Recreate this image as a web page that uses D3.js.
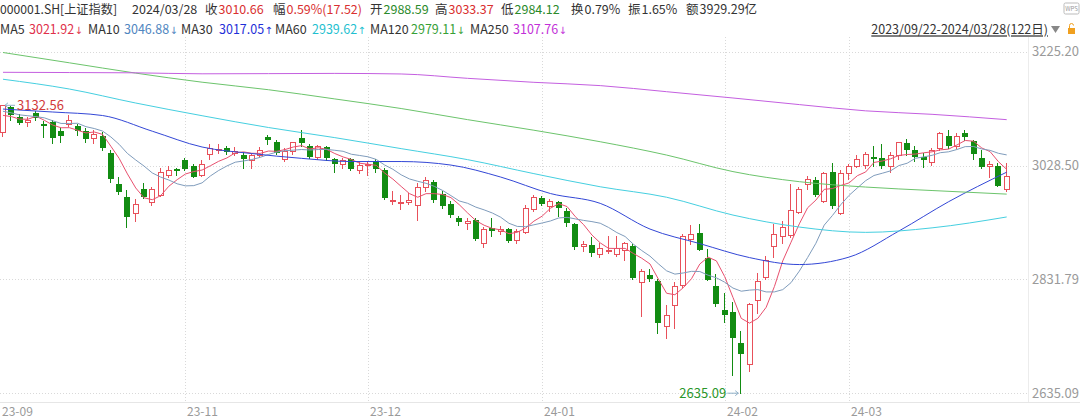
<!DOCTYPE html>
<html><head><meta charset="utf-8">
<script src="https://cdn.jsdelivr.net/npm/d3@7"></script>
<style>
html,body{margin:0;padding:0;background:#fff;}
svg{display:block;font-family:"Noto Sans CJK SC","Noto Sans",sans-serif;}
</style></head><body>
<svg id="chart" width="1080" height="420"></svg>
<script>
// ---------- DATA ----------
const dates = [
"2023-09-22","2023-09-25","2023-09-26","2023-09-27","2023-09-28",
"2023-10-09","2023-10-10","2023-10-11","2023-10-12","2023-10-13","2023-10-16","2023-10-17","2023-10-18","2023-10-19","2023-10-20",
"2023-10-23","2023-10-24","2023-10-25","2023-10-26","2023-10-27","2023-10-30","2023-10-31",
"2023-11-01","2023-11-02","2023-11-03","2023-11-06","2023-11-07","2023-11-08","2023-11-09","2023-11-10","2023-11-13","2023-11-14",
"2023-11-15","2023-11-16","2023-11-17","2023-11-20","2023-11-21","2023-11-22","2023-11-23","2023-11-24","2023-11-27","2023-11-28",
"2023-11-29","2023-11-30",
"2023-12-01","2023-12-04","2023-12-05","2023-12-06","2023-12-07","2023-12-08","2023-12-11","2023-12-12","2023-12-13","2023-12-14",
"2023-12-15","2023-12-18","2023-12-19","2023-12-20","2023-12-21","2023-12-22","2023-12-25","2023-12-26","2023-12-27","2023-12-28","2023-12-29",
"2024-01-02","2024-01-03","2024-01-04","2024-01-05","2024-01-08","2024-01-09","2024-01-10","2024-01-11","2024-01-12","2024-01-15",
"2024-01-16","2024-01-17","2024-01-18","2024-01-19","2024-01-22","2024-01-23","2024-01-24","2024-01-25","2024-01-26","2024-01-29",
"2024-01-30","2024-01-31",
"2024-02-01","2024-02-02","2024-02-05","2024-02-06","2024-02-07","2024-02-08","2024-02-19","2024-02-20","2024-02-21","2024-02-22",
"2024-02-23","2024-02-26","2024-02-27","2024-02-28","2024-02-29",
"2024-03-01","2024-03-04","2024-03-05","2024-03-06","2024-03-07","2024-03-08","2024-03-11","2024-03-12","2024-03-13","2024-03-14",
"2024-03-15","2024-03-18","2024-03-19","2024-03-20","2024-03-21","2024-03-22","2024-03-25","2024-03-26","2024-03-27","2024-03-28"];

const open = [3087,3130,3113,3104,3119,3101,3104,3088,3100,3096,
3089,3076,3080,3050,2997,2974,2947,2988,2965,2978,
3012,3022,3038,3028,3012,3048,3055,3058,3050,3046,
3038,3047,3077,3070,3040,3054,3076,3062,3044,3060,
3039,3032,3040,3020,3030,3036,3020,2967,2963,2966,
2960,2991,3000,2980,2962,2938,2929,2934,2895,2920,
2915,2919,2899,2913,2953,2972,2958,2966,2950,2927,
2889,2892,2876,2880,2875,2882,2890,2828,2840,2829,
2752,2787,2822,2901,2912,2868,2820,2778,2776,2721,
2686,2796,2836,2890,2907,2909,2948,2997,3004,2968,
3018,2947,3015,3028,3029,3043,3041,3028,3046,3068,
3055,3044,3034,3058,3080,3062,3084,3071,3042,3028,
3027,2988.59];

const high = [3132.56,3131.5,3118,3112,3123,3106,3107,3094,3115,3100,
3093,3090,3086,3056,3008,2986,2970,2998,2992,3025,
3028,3025,3042,3032,3038,3065,3065,3062,3060,3052,
3050,3060,3082,3072,3058,3070,3090,3066,3064,3062,
3042,3042,3042,3034,3037,3040,3024,2985,2978,2981,
2998,3008,3004,2985,2968,2942,2938,2938,2922,2938,
2924,2921,2919,2960,2978,2976,2970,2968,2955,2930,
2898,2905,2894,2906,2906,2897,2893,2850,2850,2833,
2787,2828,2910,2925,2927,2885,2841,2809,2793,2743,
2791,2842,2872,2928,2932,2996,2992,3011,3009,3018,
3033,3020,3032,3046,3052,3062,3065,3052,3070,3074,
3062,3050,3058,3086,3090,3084,3090,3073,3056,3036,
3033,3033.37];

const low = [3080,3108,3100,3096,3107,3078,3068,3070,3096,3082,
3070,3068,3056,3000,2980,2923,2932,2972,2960,2975,
3008,3012,3020,3008,3010,3040,3050,3048,3046,3025,
3025,3045,3065,3048,3036,3048,3062,3042,3040,3038,
3018,3025,3020,3015,3012,3018,2970,2962,2953,2962,
2934,2985,2965,2955,2940,2925,2919,2900,2887,2907,
2910,2896,2895,2912,2950,2960,2950,2941,2924,2885,
2880,2872,2870,2877,2872,2865,2832,2768,2829,2739,
2730,2748,2818,2893,2882,2830,2785,2758,2666,2635.09,
2674,2773,2832,2870,2894,2905,2946,2988,2975,2965,
2955,2945,3005,3026,3025,3027,3025,3018,3040,3046,
3037,3026,3030,3056,3058,3058,3073,3040,3025,3009,
2993,2984.12];

const close = [3132.43,3115.61,3102.27,3107.32,3110.48,3096.92,3075.24,3078.96,3107.90,3088.10,
3073.81,3083.50,3058.71,3005.39,2983.06,2939.29,2962.24,2974.11,2988.30,3017.78,
3021.55,3018.77,3023.08,3009.41,3030.80,3058.41,3057.27,3052.37,3053.28,3038.97,
3046.53,3056.07,3072.83,3050.93,3054.37,3068.32,3067.93,3043.61,3061.86,3040.97,
3031.70,3038.55,3021.69,3029.67,3031.64,3022.91,2972.30,2968.93,2966.21,2969.56,
2991.44,3003.46,2968.76,2958.99,2942.56,2930.80,2932.39,2902.11,2918.72,2914.78,
2918.81,2898.87,2914.61,2954.70,2974.93,2962.28,2967.25,2954.35,2929.18,2887.54,
2893.25,2877.70,2886.65,2881.98,2886.29,2893.99,2833.62,2845.78,2832.28,2756.34,
2770.98,2820.77,2906.11,2910.22,2883.36,2830.53,2788.55,2770.74,2730.15,2702.19,
2789.49,2829.70,2865.90,2910.54,2922.73,2950.96,2988.36,3004.88,2977.02,3015.48,
2957.85,3015.17,3027.02,3039.31,3047.79,3039.93,3027.40,3046.02,3068.46,3055.94,
3043.83,3038.23,3054.64,3084.93,3062.76,3079.69,3077.11,3048.03,3026.31,3031.48,
2993.14,3010.66];

// closes of the 9 sessions before the window (for MA5 / MA10)
const priorCloses = [3142.78,3137.06,3122.35,3126.55,3117.74,3125.93,3124.25,3108.57,3084.70];

// longer moving averages at sample sessions
const ma30Idx = [0,6,12,18,24,30,36,42,48,54,60,66,72,78,84,90,96,102,108,114,121];
const ma30Val = [3126.1,3121.0,3114.9,3087.8,3060.5,3049.2,3040.9,3035.4,3035.4,3029.3,3008.6,2980.1,2963.1,2918.7,2893.6,2869.4,2857.4,2870.3,2915.3,2966.0,3017.05];
const longIdx = [0,8,16,24,32,40,48,56,64,72,80,88,96,104,112,121];
const ma60Val  = [3177.6,3160.7,3136.5,3114.6,3094.2,3076.7,3057.7,3038.7,3014.5,2991.8,2973.7,2942.9,2922.2,2913.0,2920.8,2939.62];
const ma120Val = [3223.8,3206.0,3188.2,3172.5,3159.5,3143.6,3127.0,3107.8,3089.5,3069.6,3046.6,3018.0,3000.6,2991.3,2985.3,2979.11];
const ma250Val = [3189.6,3189.2,3188.7,3187.0,3187.3,3187.7,3186.7,3179.2,3172.3,3166.6,3156.1,3145.2,3133.8,3123.0,3117.0,3107.76];

const yTicks = [2635.09, 2831.79, 3028.50, 3225.20];
const monthLabels = ["23-09","23-11","23-12","24-01","24-02","24-03"];
const monthKeys   = ["2023-09","2023-11","2023-12","2024-01","2024-02","2024-03"];

const infoLabels = ["收","幅","开","高","低","换","振","额"];
const infoValues = ["3010.66","0.59%(17.52)","2988.59","3033.37","2984.12","0.79%","1.65%","3929.29亿"];
const maLabels = ["MA5","MA10","MA30","MA60","MA120","MA250"];
const maValues = ["3021.92","3046.88","3017.05","2939.62","2979.11","3107.76"];
const maArrows = ["↓","↓","↑","↑","↓","↓"];

// ---------- STYLE / LAYOUT ----------
const RED = "#e8505a", GREEN = "#128c12";
const maColors = ["#e8506e","#7f9cbc","#3347d6","#45cfe0","#6cc46c","#c45fe0"];
const maTextColors = ["#e0304a","#4f86c0","#1f2fd8","#1fbfd0","#37a037","#c22fd8"];
const infoColors = ["#d93030","#d93030","#2a8a2a","#d93030","#2a8a2a","#333","#333","#333"];
const infoLabelX = [205, 273, 370, 435, 501, 571, 628, 686];
const maLabelX = [0, 88, 181, 275, 370, 470];
const maValueX = [29, 124, 219, 312, 411, 513];

const svg = d3.select("#chart");
const W = 1080, plotRight = 1028, plotTop = 37, plotBottom = 402;

const x = d3.scaleBand().domain(dates).range([-1.15, 1010.85]).paddingInner(0.277).paddingOuter(0.1385);
const bw = x.bandwidth();
const cx = d => x(d) + bw / 2;
const y = d3.scaleLinear().domain(d3.extent(yTicks)).range([393.2, 51.7]);

// ---------- GRID ----------
const grid = svg.append("g");
grid.selectAll("line.h").data(yTicks).join("line")
  .attr("x1", 0).attr("x2", plotRight)
  .attr("y1", d => Math.round(y(d)) + 0.5).attr("y2", d => Math.round(y(d)) + 0.5)
  .attr("stroke", "#d9d9d9").attr("stroke-dasharray", "1,2");
const monthIdx = monthKeys.map(k => dates.findIndex(d => d.startsWith(k)));
grid.selectAll("line.v").data(monthIdx.slice(1)).join("line")
  .attr("x1", i => Math.round(cx(dates[i])) + 0.5).attr("x2", i => Math.round(cx(dates[i])) + 0.5)
  .attr("y1", plotTop).attr("y2", plotBottom)
  .attr("stroke", "#d9d9d9").attr("stroke-dasharray", "1,2");
svg.append("line").attr("x1", plotRight + 0.5).attr("x2", plotRight + 0.5).attr("y1", plotTop).attr("y2", plotBottom)
  .attr("stroke", "#ececec");
svg.append("line").attr("x1", 0).attr("x2", W).attr("y1", plotBottom + 0.5).attr("y2", plotBottom + 0.5)
  .attr("stroke", "#e6e6e6");

// y labels
svg.append("g").selectAll("text").data(yTicks).join("text")
  .attr("x", 1032).attr("y", d => y(d)).attr("dy", "0.35em")
  .attr("fill", "#9a9a9a").attr("font-size", 13)
  .text(d => d.toFixed(2));

// x labels
svg.append("g").selectAll("text").data(monthIdx).join("text")
  .attr("x", (i, k) => k === 0 ? 2 : Math.round(cx(dates[i])) + 2)
  .attr("y", 412).attr("dy", "0.35em")
  .attr("fill", "#9a9a9a").attr("font-size", 12)
  .text((i, k) => monthLabels[k]);

// ---------- CANDLES ----------
const candles = dates.map((d, i) => ({ d, i, o: open[i], h: high[i], l: low[i], c: close[i], up: close[i] >= open[i] }));
const cg = svg.append("g").attr("shape-rendering", "crispEdges");
const bodyLeft = d => Math.round(cx(d.d) - bw / 2);
cg.selectAll("line").data(candles).join("line")
  .attr("x1", d => bodyLeft(d) + 2.5).attr("x2", d => bodyLeft(d) + 2.5)
  .attr("y1", d => Math.round(y(d.h))).attr("y2", d => Math.round(y(d.l)) + 1)
  .attr("stroke", d => d.up ? RED : GREEN);
cg.selectAll("rect").data(candles).join("rect")
  .attr("x", d => d.up ? bodyLeft(d) + 0.5 : bodyLeft(d))
  .attr("width", d => d.up ? 5 : 6)
  .attr("y", d => d.up ? Math.round(y(Math.max(d.o, d.c))) + 0.5 : Math.round(y(Math.max(d.o, d.c))))
  .attr("height", d => Math.max(1, Math.round(y(Math.min(d.o, d.c))) - Math.round(y(Math.max(d.o, d.c)))))
  .attr("fill", d => d.up ? "#fff" : GREEN)
  .attr("stroke", d => d.up ? RED : "none");

// ---------- MOVING AVERAGES ----------
const allCloses = priorCloses.concat(close);
const pre = priorCloses.length;
const movAvg = n => close.map((c, i) => ({ i, v: d3.mean(allCloses.slice(i + pre - n + 1, i + pre + 1)) }));
const sampled = (idx, vals) => idx.map((i, k) => ({ i, v: vals[k] }));
const series = [
  { pts: movAvg(5), curve: d3.curveLinear },
  { pts: movAvg(10), curve: d3.curveLinear },
  { pts: sampled(ma30Idx, ma30Val), curve: d3.curveMonotoneX },
  { pts: sampled(longIdx, ma60Val), curve: d3.curveMonotoneX },
  { pts: sampled(longIdx, ma120Val), curve: d3.curveMonotoneX },
  { pts: sampled(longIdx, ma250Val), curve: d3.curveMonotoneX }
];
const mg = svg.append("g");
series.forEach((s, k) => {
  const line = d3.line().x(p => cx(dates[p.i])).y(p => y(p.v)).curve(s.curve);
  mg.append("path").attr("d", line(s.pts)).attr("fill", "none")
    .attr("stroke", maColors[k]).attr("stroke-width", 1);
});

// ---------- HIGH / LOW MARKERS ----------
const hiI = d3.maxIndex(high), loI = d3.minIndex(low);
const hx = cx(dates[hiI]), hy = y(high[hiI]);
svg.append("path").attr("d", `M${hx+2},${hy} l10,0 M${hx+2},${hy} l3,-2.5 M${hx+2},${hy} l3,2.5`)
  .attr("stroke", "#8fb0c8").attr("fill", "none");
svg.append("text").attr("x", hx + 14).attr("y", hy).attr("dy", "0.35em")
  .attr("fill", "#d23a3a").attr("font-size", 13).text(high[hiI].toFixed(2));
const lx = cx(dates[loI]), ly = y(low[loI]);
svg.append("path").attr("d", `M${lx-3},${ly} l-11,0 M${lx-3},${ly} l-3,-2.5 M${lx-3},${ly} l-3,2.5`)
  .attr("stroke", "#8fb0c8").attr("fill", "none");
svg.append("text").attr("x", lx - 15).attr("y", ly).attr("dy", "0.35em").attr("text-anchor", "end")
  .attr("fill", "#2a962a").attr("font-size", 13).text(low[loI].toFixed(2));

// ---------- HEADER ----------
const hdr = svg.append("g").attr("font-size", 12.5);
hdr.append("text").attr("x", 0).attr("y", 10).attr("dy", "0.35em").attr("fill", "#333")
  .attr("textLength", 117).attr("lengthAdjust", "spacingAndGlyphs").text("000001.SH[上证指数]");
hdr.append("text").attr("x", 132).attr("y", 10).attr("dy", "0.35em").attr("fill", "#333").text("2024/03/28");
infoLabels.forEach((l, k) => {
  hdr.append("text").attr("x", infoLabelX[k]).attr("y", 10).attr("dy", "0.35em").attr("fill", "#333").text(l);
  hdr.append("text").attr("x", infoLabelX[k] + 13.5).attr("y", 10).attr("dy", "0.35em").attr("fill", infoColors[k]).text(infoValues[k]);
});
maLabels.forEach((l, k) => {
  hdr.append("text").attr("x", maLabelX[k]).attr("y", 30).attr("dy", "0.35em").attr("fill", "#333").text(l);
  const t = hdr.append("text").attr("x", maValueX[k]).attr("y", 30).attr("dy", "0.35em").attr("fill", maTextColors[k]);
  t.append("tspan").text(maValues[k]);
  t.append("tspan").attr("font-family", "DejaVu Sans").attr("font-size", 10).attr("dx", 0.5).text(maArrows[k]);
});
const rangeText = `${dates[0].replace(/-/g, "/")}-${dates[dates.length-1].replace(/-/g, "/")}(${dates.length}日)`;
hdr.append("text").attr("x", 1048).attr("y", 30).attr("dy", "0.35em").attr("text-anchor", "end")
  .attr("fill", "#333").attr("text-decoration", "underline").text(rangeText);
hdr.append("path").attr("d", "M1051,26 l9,0 l-4.5,7 z").attr("fill", "#888");
// small corner icons
svg.append("rect").attr("x", 1064).attr("y", 3).attr("width", 15).attr("height", 11).attr("rx", 1.5)
  .attr("fill", "#fff").attr("stroke", "#bbb");
svg.append("text").attr("x", 1071.5).attr("y", 9).attr("dy", "0.35em").attr("text-anchor", "middle")
  .attr("font-size", 6).attr("fill", "#999").text("WPS");
svg.append("rect").attr("x", 1068).attr("y", 28).attr("width", 7).attr("height", 6).attr("fill", "#f0a020");
svg.append("path").attr("d", "M1069.5,28 v-2.5 a2,2 0 0 1 4,0").attr("fill", "none").attr("stroke", "#f0a020");
</script>
</body></html>
